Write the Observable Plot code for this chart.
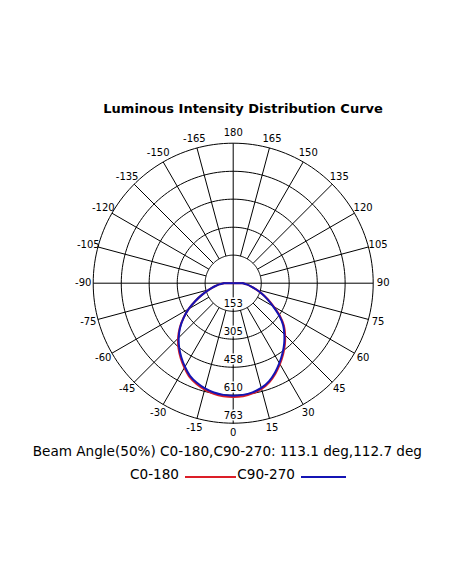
<!DOCTYPE html>
<html>
<head>
<meta charset="utf-8">
<script src="https://cdn.jsdelivr.net/npm/d3@7"></script>
<script src="https://cdn.jsdelivr.net/npm/@observablehq/plot@0.6"></script>
<style>
  html, body { margin: 0; padding: 0; background: #fff; }
  #wrap { position: relative; width: 452px; height: 584px; font-family: "DejaVu Sans", Verdana, sans-serif; color: #000; }
  .abs { position: absolute; white-space: nowrap; }
  #title { top: 101.5px; left: 103.3px; font-size: 13px; line-height: 13px; font-weight: bold; }
  #chart { top: 118px; left: 0; }
  #beam { top: 445px; left: 32.7px; font-size: 13.6px; line-height: 13.6px; }
  .leg { top: 468px; font-size: 13.6px; line-height: 13.6px; }
  .sw { position: absolute; height: 2px; }
</style>
</head>
<body>
<div id="wrap">
  <div id="title" class="abs">Luminous Intensity Distribution Curve</div>
  <div id="chart" class="abs"></div>
  <div id="beam" class="abs">Beam Angle(50%) C0-180,C90-270: 113.1 deg,112.7 deg</div>
  <div id="leg1" class="abs leg" style="left:130px">C0-180</div>
  <div class="sw" style="left:185px; top:476px; width:51px; background:#dc1e28"></div>
  <div id="leg2" class="abs leg" style="left:237.3px">C90-270</div>
  <div class="sw" style="left:301px; top:476px; width:45px; background:#1414b4"></div>
</div>
<script>
// ---- data ----
const rMax = 763;
const ringValues = [153, 305, 458, 610, 763];
const ringLabels = ["153", "305", "458", "610", "763"];
const angleTicks = [180, 165, 150, 135, 120, 105, 90, 75, 60, 45, 30, 15, 0,
                    -15, -30, -45, -60, -75, -90, -105, -120, -135, -150, -165];
const curveAngles = [0, 5, 10, 15, 20, 25, 30, 35, 40, 45, 50, 55, 60, 65, 70, 75, 80, 85, 90];
// C0-180 (red): right = C0 side, left = C180 side
const c0Right  = [620, 618, 610, 597, 575, 544, 509, 474, 438, 400, 361, 311, 255, 209, 167, 129, 98, 74, 54];
const c0Left   = [620, 618, 612, 601, 585, 564, 532, 499, 464, 425, 381, 331, 280, 226, 178, 136, 104, 77, 52];
// C90-270 (blue)
const c90Right = [613, 611, 604, 591, 569, 538, 503, 468, 432, 394, 355, 305, 250, 205, 165, 128, 98, 74, 54];
const c90Left  = [613, 611, 605, 594, 578, 557, 526, 493, 458, 420, 378, 330, 280, 226, 178, 136, 104, 77, 52];

const RED = "#dc1e28", BLUE = "#1414b4";

// ---- helpers (polar -> cartesian in intensity units) ----
const rad = a => a * Math.PI / 180;
const px = (r, a) => r * Math.sin(rad(a));
const py = (r, a) => r * Math.cos(rad(a));

// rings
const ringPts = [];
for (const v of ringValues) {
  for (let a = 0; a <= 360; a += 2) ringPts.push({ring: v, x: px(v, a), y: py(v, a)});
}
// spokes
const spokes = angleTicks.map(a => {
  const full = (a % 90 === 0);
  const r0 = full ? 0 : ringValues[0];
  return {x1: px(r0, a), y1: py(r0, a), x2: px(rMax, a), y2: py(rMax, a)};
});
// angle labels
const labelR = rMax * 150 / 140;
const angleLab = angleTicks.map(a => ({x: px(labelR, a), y: py(labelR, a), t: String(a)}));
// ring labels
const ringLab = ringValues.map((v, i) => ({x: 0, y: v, t: ringLabels[i]}));

function arc(right, left) {
  const pts = [];
  for (let i = curveAngles.length - 1; i >= 1; i--) {
    const a = -curveAngles[i];
    pts.push({x: px(left[i], a), y: py(left[i], a)});
  }
  for (let i = 0; i < curveAngles.length; i++) {
    const a = curveAngles[i];
    pts.push({x: px(right[i], a), y: py(right[i], a)});
  }
  return pts;
}
function ends(pts) {
  const f = pts[0], l = pts[pts.length - 1];
  return [{x1: 0, y1: 0, x2: f.x, y2: f.y}, {x1: 0, y1: 0, x2: l.x, y2: l.y}];
}
const redPts = arc(c0Right, c0Left);
const bluePts = arc(c90Right, c90Left);

const chart = Plot.plot({
  width: 452,
  height: 322,
  marginLeft: 92.7,
  marginRight: 79.3,
  marginTop: 24.7,
  marginBottom: 17.3,
  x: {domain: [-rMax, rMax], axis: null},
  y: {domain: [-rMax, rMax], reverse: true, axis: null},
  style: {fontFamily: "DejaVu Sans, Verdana, sans-serif", overflow: "visible", background: "transparent"},
  marks: [
    Plot.line(ringPts, {x: "x", y: "y", z: "ring", stroke: "#000", strokeWidth: 1}),
    Plot.link(spokes, {x1: "x1", y1: "y1", x2: "x2", y2: "y2", stroke: "#000", strokeWidth: 1}),
    Plot.text(angleLab, {x: "x", y: "y", text: "t", fontSize: 10, fill: "#000"}),
    Plot.text(ringLab, {x: "x", y: "y", text: "t", dy: -7, fontSize: 10, fill: "#000", stroke: "#fff", strokeWidth: 3}),
    Plot.line(redPts, {x: "x", y: "y", stroke: RED, strokeWidth: 2, curve: "catmull-rom"}),
    Plot.link(ends(redPts), {x1: "x1", y1: "y1", x2: "x2", y2: "y2", stroke: RED, strokeWidth: 2}),
    Plot.line(bluePts, {x: "x", y: "y", stroke: BLUE, strokeWidth: 2, curve: "catmull-rom"}),
    Plot.link(ends(bluePts), {x1: "x1", y1: "y1", x2: "x2", y2: "y2", stroke: BLUE, strokeWidth: 2})
  ]
});
document.getElementById("chart").appendChild(chart);
</script>
</body>
</html>
